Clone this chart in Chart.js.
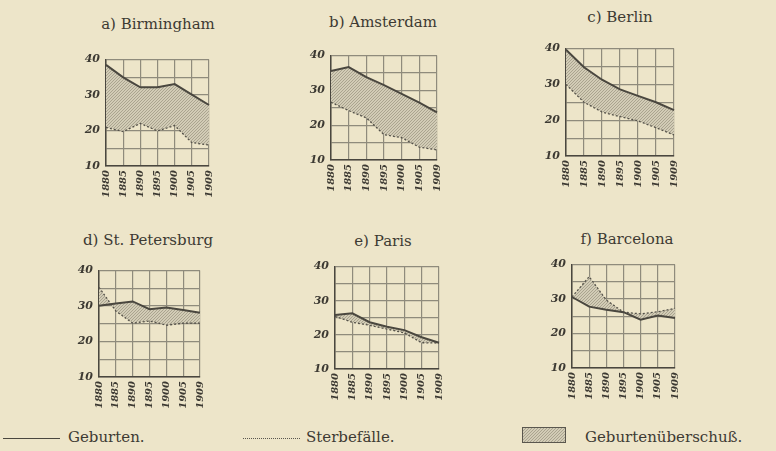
<!DOCTYPE html>
<html>
<head>
<meta charset="utf-8">
<script src="https://cdn.jsdelivr.net/npm/chart.js@4.4.1/dist/chart.umd.min.js"></script>
<style>
  body { margin: 0; width: 776px; height: 451px; background: #ede5c9; position: relative; overflow: hidden;
         font-family: "DejaVu Serif", serif; color: #3d3a33; }
  .ttl { position: absolute; width: 240px; text-align: center; font-size: 15px; line-height: 18px; }
  .box { position: absolute; }
  .lg { position: absolute; font-size: 15px; line-height: 18px; top: 428px; }
</style>
</head>
<body>
<div class="ttl" style="left:38px;top:15px">a) Birmingham</div>
<div class="ttl" style="left:263px;top:13px">b) Amsterdam</div>
<div class="ttl" style="left:500px;top:8px">c) Berlin</div>
<div class="ttl" style="left:28px;top:231px">d) St. Petersburg</div>
<div class="ttl" style="left:263px;top:232px">e) Paris</div>
<div class="ttl" style="left:507px;top:230px">f) Barcelona</div>

<div class="box" id="p0"><canvas id="c0"></canvas></div>
<div class="box" id="p1"><canvas id="c1"></canvas></div>
<div class="box" id="p2"><canvas id="c2"></canvas></div>
<div class="box" id="p3"><canvas id="c3"></canvas></div>
<div class="box" id="p4"><canvas id="c4"></canvas></div>
<div class="box" id="p5"><canvas id="c5"></canvas></div>

<div style="position:absolute;left:3px;top:438px;width:57px;border-top:1.5px solid #4a473f"></div>
<div class="lg" style="left:68px">Geburten.</div>
<div style="position:absolute;left:243px;top:438px;width:57px;border-top:1px dotted #5a574e"></div>
<div class="lg" style="left:306px">Sterbefälle.</div>
<div id="lgbox" style="position:absolute;left:522px;top:427px;width:42px;height:14px;border:1px solid #5a574e"></div>
<div class="lg" style="left:585px">Geburtenüberschuß.</div>

<script>
const years = ['1880', '1885', '1890', '1895', '1900', '1905', '1909'];
const yTicks = [10, 20, 30, 40];

const birmBirths = [38.5, 35.0, 32.2, 32.2, 33.1, 30.1, 27.2];
const birmDeaths = [20.9, 19.7, 22.0, 19.9, 21.4, 16.6, 15.9];
const amstBirths = [35.6, 36.7, 33.8, 31.5, 29.0, 26.5, 23.7];
const amstDeaths = [26.6, 24.2, 22.1, 17.3, 16.4, 13.7, 12.9];
const berlBirths = [39.7, 34.8, 31.3, 28.6, 26.8, 25.0, 22.8];
const berlDeaths = [30.0, 25.0, 22.3, 21.0, 19.8, 17.9, 15.9];
const petBirths = [30.1, 30.7, 31.3, 29.1, 29.6, 28.9, 28.1];
const petDeaths = [35.3, 28.6, 25.2, 25.8, 24.6, 25.2, 25.2];
const parisBirths = [25.8, 26.3, 23.7, 22.4, 21.4, 19.3, 17.7];
const parisDeaths = [25.4, 23.7, 22.8, 21.7, 20.6, 17.7, 17.6];
const barcBirths = [30.6, 27.8, 26.9, 26.2, 24.0, 25.2, 24.5];
const barcDeaths = [30.6, 36.5, 29.7, 26.2, 25.7, 26.3, 27.3];

// plot area boxes: left, top, right, bottom
const panels = [
  { births: birmBirths, deaths: birmDeaths, box: [106, 55, 217, 166] },
  { births: amstBirths, deaths: amstDeaths, box: [331, 51, 445, 160] },
  { births: berlBirths, deaths: berlDeaths, box: [566, 44, 682, 156] },
  { births: petBirths, deaths: petDeaths, box: [99, 266, 208, 377] },
  { births: parisBirths, deaths: parisDeaths, box: [335, 262, 447, 369] },
  { births: barcBirths, deaths: barcDeaths, box: [572, 260, 683, 368] },
];

function hatch() {
  const c = document.createElement('canvas');
  c.width = 3; c.height = 3;
  const g = c.getContext('2d');
  g.fillStyle = '#d2ccb6';
  g.fillRect(0, 0, 3, 3);
  g.fillStyle = '#aaa48f';
  g.fillRect(0, 2, 1, 1);
  g.fillRect(1, 1, 1, 1);
  g.fillRect(2, 0, 1, 1);
  return c;
}
const hatchCanvas = hatch();
document.getElementById('lgbox').style.background =
  'url(' + hatchCanvas.toDataURL() + ')';

const YW = 40, XH = 40, PT = 8, PR = 8;
const gridColor = '#8f8b7c';
const inkColor = '#4a473f';

panels.forEach((p, i) => {
  const [l, t, r, b] = p.box;
  const wrap = document.getElementById('p' + i);
  const w = (r - l) + YW + PR, h = (b - t) + XH + PT;
  wrap.style.left = (l - YW) + 'px';
  wrap.style.top = (t - PT) + 'px';
  wrap.style.width = w + 'px';
  wrap.style.height = h + 'px';
  const ctx = document.getElementById('c' + i).getContext('2d');
  const pattern = ctx.createPattern(hatchCanvas, 'repeat');

  new Chart(ctx, {
    type: 'line',
    data: {
      labels: years,
      datasets: [
        {
          label: 'Geburten',
          data: p.births,
          borderColor: inkColor,
          borderWidth: 2,
          pointRadius: 0,
          tension: 0,
          fill: false,
        },
        {
          label: 'Sterbefälle',
          data: p.deaths,
          borderColor: '#55524a',
          borderWidth: 1.3,
          borderDash: [2, 2],
          pointRadius: 0,
          tension: 0,
          backgroundColor: pattern,
          fill: '-1',
        },
      ],
    },
    options: {
      responsive: true,
      maintainAspectRatio: false,
      animation: false,
      layout: { padding: { top: PT, right: PR, left: 0, bottom: 0 } },
      plugins: { legend: { display: false }, tooltip: { enabled: false } },
      scales: {
        x: {
          offset: false,
          afterFit: s => { s.height = XH; },
          grid: { color: gridColor, lineWidth: 1.2, drawTicks: false },
          border: { color: inkColor, width: 1.5 },
          ticks: {
            minRotation: 90, maxRotation: 90, padding: 4,
            color: '#3d3a33',
            font: { family: 'DejaVu Serif', size: 10, style: 'italic', weight: 'bold' },
          },
        },
        y: {
          min: 10, max: 40,
          afterFit: s => { s.width = YW; },
          grid: { color: gridColor, lineWidth: 1.2, drawTicks: false },
          border: { color: inkColor, width: 1.5 },
          ticks: {
            stepSize: 5, padding: 6,
            color: '#3d3a33',
            callback: v => yTicks.includes(v) ? String(v) : '',
            font: { family: 'DejaVu Serif', size: 11, style: 'italic', weight: 'bold' },
          },
        },
      },
    },
  });
});
</script>
</body>
</html>
